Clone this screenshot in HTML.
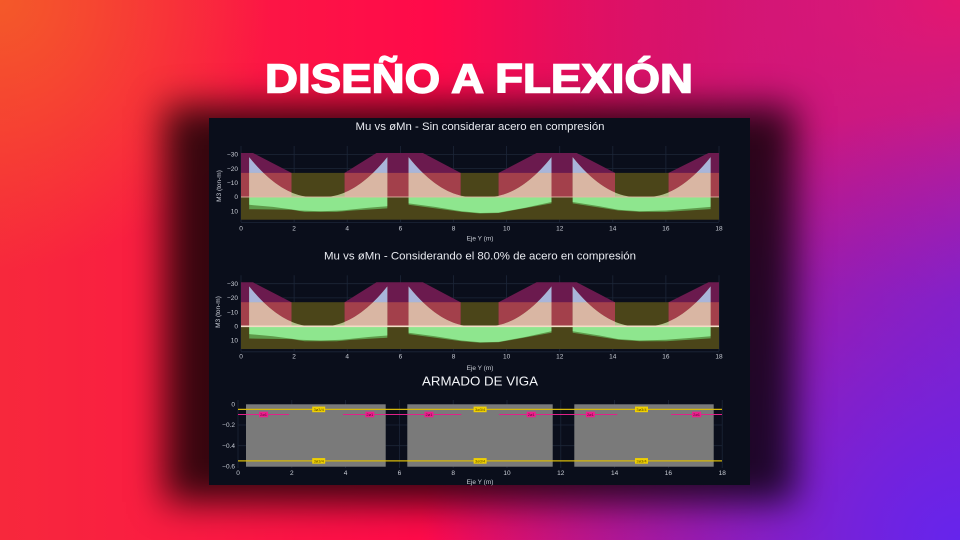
<!DOCTYPE html>
<html>
<head>
<meta charset="utf-8">
<style>
html,body{margin:0;padding:0;}
body{width:960px;height:540px;overflow:hidden;position:relative;
background:
 radial-gradient(circle at 0% 0%, rgba(244,92,40,0.95) 0, rgba(244,92,40,0) 270px),
 radial-gradient(ellipse 540px 430px at 100% 100%, rgba(102,36,236,1) 0, rgba(102,36,236,0) 100%),
 radial-gradient(ellipse 420px 300px at 100% 0%, rgba(236,22,104,0.9) 0, rgba(236,22,104,0) 100%),
 linear-gradient(to right, #f7283c 0%, #ff0a4a 45%, #cc1270 72%, #9a1eb0 100%);
}
.shadow{position:absolute;left:165px;top:106px;width:630px;height:396px;background:rgba(0,0,0,0.78);filter:blur(18px);}
svg{position:absolute;left:0;top:0;}
text{font-family:"Liberation Sans",sans-serif;}
</style>
</head>
<body>
<div class="shadow"></div>
<svg width="960" height="540" viewBox="0 0 960 540" xmlns="http://www.w3.org/2000/svg" xmlns:xlink="http://www.w3.org/1999/xlink">
<defs>
 <clipPath id="ab"><rect x="230" y="140" width="500" height="32.9"/></clipPath>
 <clipPath id="rz">
  <rect x="241" y="172.9" width="50.5" height="24.1"/>
  <rect x="344.6" y="172.9" width="116" height="24.1"/>
  <rect x="498.6" y="172.9" width="116.4" height="24.1"/>
  <rect x="668.6" y="172.9" width="50.4" height="24.1"/>
 </clipPath>
 <g id="curves">
  <path d="M249.2,197 L249.2,157.2 Q281.1,197 312.9,197 Z"/>
  <path d="M387.3,197 L387.3,157.2 Q355.4,197 323.6,197 Z"/>
  <path d="M408.6,197 L408.6,157.2 Q440.5,197 472.3,197 Z"/>
  <path d="M551.5,197 L551.5,157.2 Q519.6,197 487.8,197 Z"/>
  <path d="M572.7,197 L572.7,157.2 Q604.6,197 636.4,197 Z"/>
  <path d="M710.6,197 L710.6,157.2 Q678.7,197 646.9,197 Z"/>
 </g>
 <g id="plot">
  <g stroke="#1c2638" stroke-width="0.8">
   <line x1="241" y1="146" x2="241" y2="222"/>
   <line x1="294.1" y1="146" x2="294.1" y2="222"/>
   <line x1="347.2" y1="146" x2="347.2" y2="222"/>
   <line x1="400.4" y1="146" x2="400.4" y2="222"/>
   <line x1="453.5" y1="146" x2="453.5" y2="222"/>
   <line x1="506.6" y1="146" x2="506.6" y2="222"/>
   <line x1="559.7" y1="146" x2="559.7" y2="222"/>
   <line x1="612.8" y1="146" x2="612.8" y2="222"/>
   <line x1="665.9" y1="146" x2="665.9" y2="222"/>
   <line x1="719" y1="146" x2="719" y2="222"/>
   <line x1="241" y1="154.4" x2="719" y2="154.4"/>
   <line x1="241" y1="168.6" x2="719" y2="168.6"/>
   <line x1="241" y1="182.8" x2="719" y2="182.8"/>
   <line x1="241" y1="211.2" x2="719" y2="211.2"/>
   <line x1="241" y1="222.5" x2="719" y2="222.5"/>
  </g>
  <rect x="241" y="172.9" width="478" height="46.8" fill="#4b4519"/>
  <g fill="#6b1a4e">
   <polygon points="241,197 241,153 253,153 291.5,172.9 291.5,197"/>
   <polygon points="344.6,197 344.6,172.9 376.5,153 422.9,153 460.6,172.9 460.6,197"/>
   <polygon points="498.6,197 498.6,172.9 536.6,153 576.7,153 615,172.9 615,197"/>
   <polygon points="668.6,197 668.6,172.9 708.5,153 719,153 719,197"/>
  </g>
  <g fill="#a3404b">
   <rect x="241" y="172.9" width="50.5" height="24.1"/>
   <rect x="344.6" y="172.9" width="116" height="24.1"/>
   <rect x="498.6" y="172.9" width="116.4" height="24.1"/>
   <rect x="668.6" y="172.9" width="50.4" height="24.1"/>
  </g>
  <use xlink:href="#curves" href="#curves" fill="#b2c08a"/>
  <use xlink:href="#curves" href="#curves" fill="#d9b6a3" clip-path="url(#rz)"/>
  <use xlink:href="#curves" href="#curves" fill="#a9b5da" clip-path="url(#ab)"/>
  <g fill="#5e9a4a">
   <path d="M249.2,197 L249.2,209.2 L291.5,209.8 L304.7,211.9 L336.6,211.9 L352.6,210.5 L387.3,208.4 L387.3,197 Z"/>
   <path d="M408.6,197 L408.6,204.8 L461.4,211.9 L480,213.5 L498.6,213 L551.5,203.4 L551.5,197 Z"/>
   <path d="M572.7,197 L572.7,203.4 L618.2,210.5 L639.4,211.9 L666,211.9 L710.6,209.1 L710.6,197 Z"/>
  </g>
  <g fill="#8ee68e">
   <path d="M249.2,197 L249.2,204.8 L272.9,206.9 L299.4,210.5 L320.7,211.2 L341.9,210.5 L368.5,207.7 L387.3,206.2 L387.3,197 Z"/>
   <path d="M408.6,197 L408.6,203.4 L434.9,206.9 L461.4,211.2 L480,213 L498.6,212.6 L525.2,207.7 L551.5,202 L551.5,197 Z"/>
   <path d="M572.7,197 L572.7,202 L599.6,206.2 L618.2,209.8 L639.4,211.2 L666,210.5 L692.5,208.4 L710.6,206.9 L710.6,197 Z"/>
  </g>
 </g>
</defs>

<!-- Main title -->
<text x="265" y="92.7" font-size="41" font-weight="bold" fill="#ffffff" stroke="#ffffff" stroke-width="1.4" textLength="428" lengthAdjust="spacingAndGlyphs">DISEÑO A FLEXIÓN</text>

<!-- Panel -->
<rect x="209" y="118" width="541" height="367" fill="#0a0e1b"/>

<!-- Chart 1 -->
<use xlink:href="#plot" href="#plot"/>
<line x1="241" y1="197" x2="719" y2="197" stroke="#e6b9a8" stroke-width="1" opacity="0.85"/>
<text x="480" y="130" font-size="11" fill="#e8eaf0" text-anchor="middle" textLength="249" lengthAdjust="spacingAndGlyphs">Mu vs øMn - Sin considerar acero en compresión</text>
<g font-size="6.5" fill="#c9cdd6" text-anchor="middle">
 <text x="241" y="230.5">0</text><text x="294.1" y="230.5">2</text><text x="347.2" y="230.5">4</text><text x="400.4" y="230.5">6</text><text x="453.5" y="230.5">8</text><text x="506.6" y="230.5">10</text><text x="559.7" y="230.5">12</text><text x="612.8" y="230.5">14</text><text x="665.9" y="230.5">16</text><text x="719" y="230.5">18</text>
 <text x="480" y="240.5">Eje Y (m)</text>
</g>
<g font-size="6.5" fill="#c9cdd6" text-anchor="end">
 <text x="238" y="156.6">−30</text><text x="238" y="170.8">−20</text><text x="238" y="185">−10</text><text x="238" y="199.2">0</text><text x="238" y="213.4">10</text>
</g>
<text x="0" y="0" font-size="6.5" fill="#c9cdd6" text-anchor="middle" transform="translate(221,186) rotate(-90)">M3 (ton-m)</text>

<!-- Chart 2 -->
<use xlink:href="#plot" href="#plot" y="129.3"/>
<line x1="241" y1="326.3" x2="719" y2="326.3" stroke="#f2dcc6" stroke-width="1.6"/>
<text x="480" y="259.3" font-size="11" fill="#e8eaf0" text-anchor="middle" textLength="312" lengthAdjust="spacingAndGlyphs">Mu vs øMn - Considerando el 80.0% de acero en compresión</text>
<g font-size="6.5" fill="#c9cdd6" text-anchor="middle">
 <text x="241" y="358.6">0</text><text x="294.1" y="358.6">2</text><text x="347.2" y="358.6">4</text><text x="400.4" y="358.6">6</text><text x="453.5" y="358.6">8</text><text x="506.6" y="358.6">10</text><text x="559.7" y="358.6">12</text><text x="612.8" y="358.6">14</text><text x="665.9" y="358.6">16</text><text x="719" y="358.6">18</text>
 <text x="480" y="370">Eje Y (m)</text>
</g>
<g font-size="6.5" fill="#c9cdd6" text-anchor="end">
 <text x="238" y="285.9">−30</text><text x="238" y="300.1">−20</text><text x="238" y="314.3">−10</text><text x="238" y="328.5">0</text><text x="238" y="342.7">10</text>
</g>
<text x="0" y="0" font-size="6.5" fill="#c9cdd6" text-anchor="middle" transform="translate(220,312) rotate(-90)">M3 (ton-m)</text>

<!-- Chart 3 -->
<text x="480" y="385.7" font-size="13" fill="#f2f4f8" text-anchor="middle" textLength="116" lengthAdjust="spacingAndGlyphs">ARMADO DE VIGA</text>
<g stroke="#1c2638" stroke-width="0.8">
 <line x1="238" y1="400" x2="238" y2="468"/><line x1="291.8" y1="400" x2="291.8" y2="468"/><line x1="345.6" y1="400" x2="345.6" y2="468"/><line x1="399.4" y1="400" x2="399.4" y2="468"/><line x1="453.2" y1="400" x2="453.2" y2="468"/><line x1="507" y1="400" x2="507" y2="468"/><line x1="560.8" y1="400" x2="560.8" y2="468"/><line x1="614.6" y1="400" x2="614.6" y2="468"/><line x1="668.4" y1="400" x2="668.4" y2="468"/><line x1="722.2" y1="400" x2="722.2" y2="468"/>
 <line x1="238" y1="425" x2="722" y2="425"/><line x1="238" y1="445.7" x2="722" y2="445.7"/>
</g>
<g fill="#7a7a7a">
 <rect x="246" y="404.3" width="139.7" height="62.4"/>
 <rect x="407.3" y="404.3" width="145.4" height="62.4"/>
 <rect x="574.3" y="404.3" width="139.4" height="62.4"/>
</g>
<g stroke="#d6b80a" stroke-width="1.3">
 <line x1="238" y1="409.4" x2="722" y2="409.4"/>
 <line x1="238" y1="460.9" x2="722" y2="460.9"/>
</g>
<g stroke="#e0208a" stroke-width="1">
 <line x1="238" y1="414.5" x2="289.1" y2="414.5"/>
 <line x1="342.9" y1="414.5" x2="461.3" y2="414.5"/>
 <line x1="498.9" y1="414.5" x2="617.3" y2="414.5"/>
 <line x1="671.1" y1="414.5" x2="722" y2="414.5"/>
</g>
<g fill="#ec1f8e">
 <rect x="259.1" y="411.7" width="9" height="5.6"/>
 <rect x="365.3" y="411.7" width="9" height="5.6"/>
 <rect x="424.5" y="411.7" width="9" height="5.6"/>
 <rect x="526.7" y="411.7" width="9" height="5.6"/>
 <rect x="585.9" y="411.7" width="9" height="5.6"/>
 <rect x="692.1" y="411.7" width="9" height="5.6"/>
</g>
<g font-size="4" fill="#5a0a30" text-anchor="middle">
 <text x="263.6" y="415.9">2ø1</text><text x="369.8" y="415.9">2ø1</text><text x="429" y="415.9">2ø1</text><text x="531.2" y="415.9">2ø1</text><text x="590.4" y="415.9">2ø1</text><text x="696.6" y="415.9">2ø1</text>
</g>
<g fill="#f0d000">
 <rect x="312.2" y="406.6" width="13" height="5.6"/>
 <rect x="473.6" y="406.6" width="13" height="5.6"/>
 <rect x="635" y="406.6" width="13" height="5.6"/>
 <rect x="312.2" y="458.1" width="13" height="5.6"/>
 <rect x="473.6" y="458.1" width="13" height="5.6"/>
 <rect x="635" y="458.1" width="13" height="5.6"/>
</g>
<g font-size="4" fill="#5a4a00" text-anchor="middle">
 <text x="318.7" y="410.8">3ø3/4</text><text x="480.1" y="410.8">3ø3/4</text><text x="641.5" y="410.8">3ø3/4</text>
 <text x="318.7" y="462.3">3ø3/4</text><text x="480.1" y="462.3">3ø3/4</text><text x="641.5" y="462.3">3ø3/4</text>
</g>
<g font-size="6.5" fill="#c9cdd6" text-anchor="middle">
 <text x="238" y="474.8">0</text><text x="291.8" y="474.8">2</text><text x="345.6" y="474.8">4</text><text x="399.4" y="474.8">6</text><text x="453.2" y="474.8">8</text><text x="507" y="474.8">10</text><text x="560.8" y="474.8">12</text><text x="614.6" y="474.8">14</text><text x="668.4" y="474.8">16</text><text x="722.2" y="474.8">18</text>
 <text x="480" y="484.2">Eje Y (m)</text>
</g>
<g font-size="6.5" fill="#c9cdd6" text-anchor="end">
 <text x="235" y="406.5">0</text><text x="235" y="427.2">−0.2</text><text x="235" y="447.9">−0.4</text><text x="235" y="468.6">−0.6</text>
</g>
</svg>
</body>
</html>
